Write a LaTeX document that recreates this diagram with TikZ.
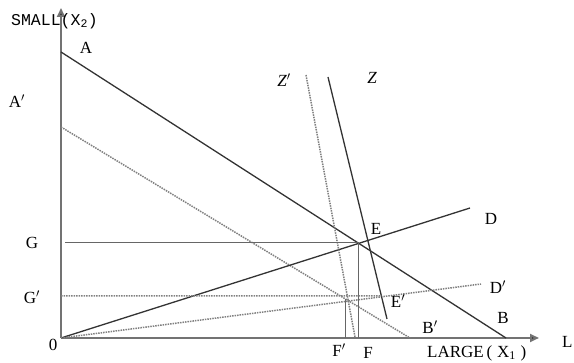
\documentclass[tikz,border=0pt]{standalone}
\usepackage{fontspec}
\setmainfont{Liberation Serif}
\newfontfamily\monofam{Liberation Mono}
\usetikzlibrary{arrows.meta}
\begin{document}
\begin{tikzpicture}[x=1pt,y=-1pt,
  axis/.style={draw=black!55,line width=2.2pt,-{Triangle[length=9pt,width=8pt,fill=black]}},
  solidln/.style={draw=black!80,line width=1.3pt},
  thinln/.style={draw=black!60,line width=0.9pt},
  dotln/.style={draw=black!50,line width=1.5pt,densely dotted},
  lbl/.style={inner sep=0pt,font=\fontsize{17}{17}\selectfont,text=black}]
\useasboundingbox (0,0) rectangle (574,363);
% key points
\coordinate (O) at (61,338);
\coordinate (Ytop) at (61,8);
\coordinate (Xend) at (539,338);
\coordinate (A) at (61,52);
\coordinate (B) at (506,338);
\coordinate (Ap) at (61,127);
\coordinate (Bp) at (410,338);
\coordinate (D) at (470,208);
\coordinate (Dp) at (481,284);
\coordinate (Zt) at (328,77);
\coordinate (Zb) at (387,319);
\coordinate (Zpt) at (306,75);
\coordinate (Zpb) at (355,337);
\coordinate (E) at (intersection of A--B and O--D);
\coordinate (Gs) at (65,242);
\coordinate (Gps) at (61,296);
\coordinate (Ep) at (intersection of Zt--Zb and 61,296--500,296);
\coordinate (Fpt) at (345,299);
\coordinate (Fpb) at (345,338);
% axes
\draw[axis] (O) -- (Ytop);
\draw[axis] (O) -- (Xend);
% lines
\draw[solidln] (A) -- (B);
\draw[dotln] (Ap) -- (Bp);
\draw[solidln] (O) -- (D);
\draw[dotln] (O) -- (Dp);
\draw[solidln] (Zt) -- (Zb);
\draw[dotln] (Zpt) -- (Zpb);
\draw[thinln] (Gs) -- (Gs -| E);
\draw[thinln] (E) -- (E |- O);
\draw[dotln] (Gps) -- (Ep);
\draw[thinln] (Fpt) -- (Fpb);
% labels
\node[lbl,font=\monofam\fontsize{16.5}{16.5}\selectfont,anchor=west] (ls) at (11,21) {SMALL(X\textsubscript{2})};
\node[lbl] (lA) at (86,48) {A};
\node[lbl] (lAp) at (17,101) {A$'$};
\node[lbl] (lB) at (503,318) {B};
\node[lbl] (lBp) at (430,327) {B$'$};
\node[lbl] (lD) at (491,219) {D};
\node[lbl] (lDp) at (498,287) {D$'$};
\node[lbl] (lZ) at (372,78) {\itshape Z};
\node[lbl] (lZp) at (284,80) {\itshape Z$'$};
\node[lbl] (lE) at (376,229) {E};
\node[lbl] (lEp) at (398,301) {E$'$};
\node[lbl] (lG) at (32,243) {G};
\node[lbl] (lGp) at (32,297) {G$'$};
\node[lbl] (lF) at (368,353) {F};
\node[lbl] (lFp) at (339,350) {F$'$};
\node[lbl] (l0) at (53,345) {0};
\node[lbl,anchor=west] (lX) at (427,353) {LARGE\,(\;X\textsubscript{1}\;)};
\node[lbl,anchor=west] (lL) at (562,342) {L};
\end{tikzpicture}
\end{document}
